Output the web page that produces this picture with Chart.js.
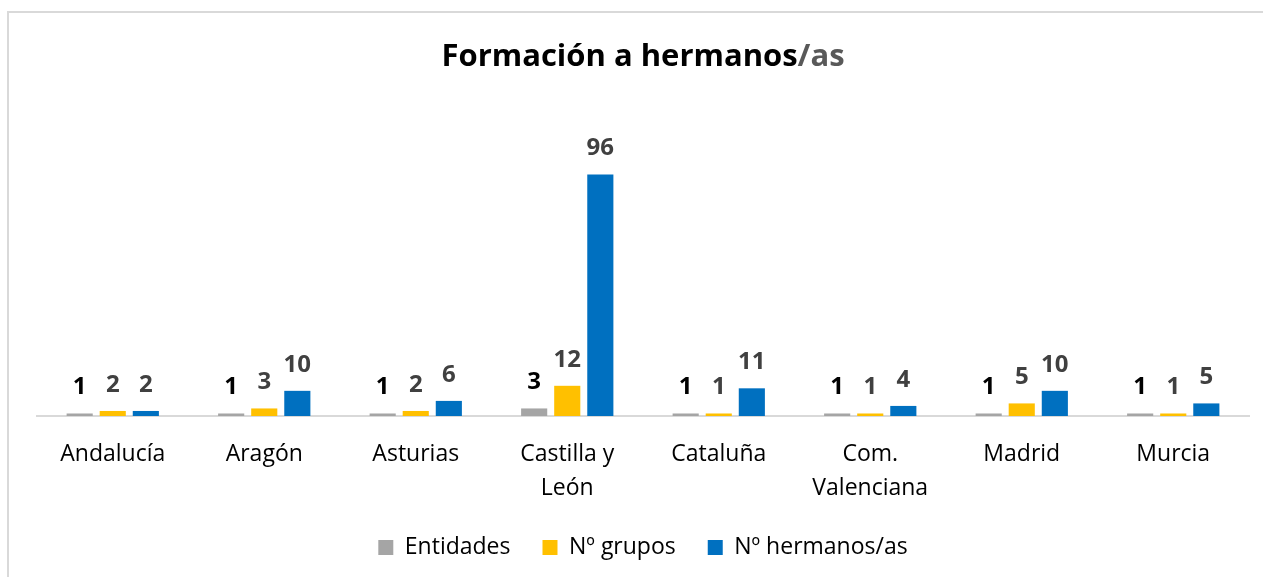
<!DOCTYPE html>
<html>
<head>
  <meta charset="utf-8">
  <script src="https://cdn.jsdelivr.net/npm/chart.js"></script>
  <style>
    body { margin:0; background:#fff; overflow:hidden; }
    .Frame {
      position:absolute; left:7px; top:11px; width:1300px; height:600px;
      border:2px solid #d9d9d9; box-sizing:border-box;
    }
    .Holder { position:absolute; left:0; top:0; width:1263px; height:577px; }
  </style>
</head>
<body>
<div class="Frame"></div>
<div class="Holder"><canvas id="myChart"></canvas></div>
<script>
  var regiones = ["Andalucía", "Aragón", "Asturias", ["Castilla y", "León"], "Cataluña", ["Com.", "Valenciana"], "Madrid", "Murcia"];
  var entidades = [1, 1, 1, 3, 1, 1, 1, 1];
  var grupos = [2, 3, 2, 12, 1, 1, 5, 1];
  var hermanos = [2, 10, 6, 96, 11, 4, 10, 5];

  var FONT = "'Open Sans', sans-serif";

  // title with the grey "/as" part
  var titlePlugin = {
    id: 'twoColorTitle',
    afterDraw: function(chart) {
      var ctx = chart.ctx;
      ctx.save();
      ctx.font = "bold 31px " + FONT;
      ctx.textBaseline = "alphabetic";
      var a = "Formación a hermanos", b = "/as";
      var wa = ctx.measureText(a).width, wb = ctx.measureText(b).width;
      var x = 643 - (wa + wb) / 2;
      ctx.fillStyle = "#000000";
      ctx.fillText(a, x, 66);
      ctx.fillStyle = "#595959";
      ctx.fillText(b, x + wa, 66);
      ctx.restore();
    }
  };

  var labelPlugin = {
    id: 'barLabels',
    afterDatasetsDraw: function(chart) {
      var ctx = chart.ctx;
      ctx.save();
      ctx.font = "bold 24px " + FONT;
      ctx.textAlign = "center";
      ctx.textBaseline = "alphabetic";
      chart.data.datasets.forEach(function(ds, di) {
        var meta = chart.getDatasetMeta(di);
        ctx.fillStyle = di == 0 ? "#000000" : "#404040";
        meta.data.forEach(function(el, i) {
          ctx.fillText(ds.data[i], el.x, el.y - 19);
        });
      });
      ctx.restore();
    }
  };

  new Chart(document.getElementById('myChart'), {
    type: 'bar',
    data: {
      labels: regiones,
      datasets: [
        {label: "Entidades", data: entidades, backgroundColor: "#A5A5A5"},
        {label: "Nº grupos", data: grupos, backgroundColor: "#FFC000"},
        {label: "Nº hermanos/as", data: hermanos, backgroundColor: "#0070C0"}
      ]
    },
    options: {
      responsive: true,
      maintainAspectRatio: false,
      animation: false,
      categoryPercentage: 0.655,
      barPercentage: 0.79,
      layout: { padding: {top: 114, left: 37, right: 14, bottom: 8} },
      plugins: {
        title: { display: false },
        tooltip: { enabled: false },
        legend: {
          position: 'bottom',
          labels: {
            font: {family: FONT, size: 23},
            color: "#000000",
            boxWidth: 15,
            boxHeight: 15,
            padding: 32
          }
        }
      },
      scales: {
        x: {
          grid: { display: false },
          border: { display: true, color: "#d9d9d9", width: 2 },
          ticks: { font: {family: FONT, size: 23, lineHeight: 1.45}, color: "#000000", padding: 14, maxRotation: 0 },
          afterFit: function(scale) { scale.height = 88; }
        },
        y: {
          display: false,
          min: 0,
          max: 120
        }
      }
    },
    plugins: [titlePlugin, labelPlugin]
  });
</script>
</body>
</html>
